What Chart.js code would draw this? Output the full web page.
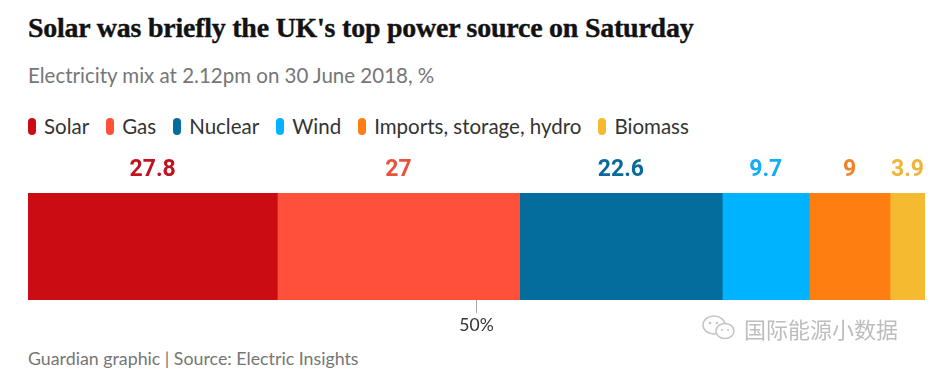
<!DOCTYPE html>
<html>
<head>
<meta charset="utf-8">
<script src="https://cdn.jsdelivr.net/npm/chart.js@4"></script>
<style>
  body { margin: 0; background: #fff; width: 948px; height: 389px; overflow: hidden; position: relative; font-family: Lato, "Noto Sans", sans-serif; }
  #title { position: absolute; left: 28px; top: 12px; font-family: "Liberation Serif", serif; font-weight: bold; font-size: 27.9px; color: #121212; letter-spacing: -0.2px; -webkit-text-stroke: 0.4px #121212; }
  #subtitle { position: absolute; left: 28px; top: 63px; font-size: 20.5px; color: #767676; }
  #legend { position: absolute; left: 28px; top: 114px; font-size: 20.5px; color: #333; display: flex; }
  #legend span.item { display: flex; align-items: center; margin-right: 17px; }
  #legend i { display: inline-block; width: 8px; height: 17px; border-radius: 4px; margin-right: 8px; }
  #wrap { position: absolute; left: 0; top: 150px; width: 948px; height: 190px; }
  #source { position: absolute; left: 28px; top: 347px; font-size: 17.8px; color: #767676; }
  #mark { position: absolute; left: 700px; top: 312px; font-family: "Noto Sans CJK SC", sans-serif; font-size: 22px; color: #bdbdbd; display: flex; align-items: center; }
</style>
</head>
<body>
<div id="title">Solar was briefly the UK's top power source on Saturday</div>
<div id="subtitle">Electricity mix at 2.12pm on 30 June 2018, %</div>
<div id="legend"></div>
<div id="wrap"><canvas id="mixChart"></canvas></div>
<div id="source">Guardian graphic | Source: Electric Insights</div>
<div id="mark">
  <svg width="40" height="30" viewBox="0 0 40 30">
    <ellipse cx="14" cy="12" rx="11" ry="9" fill="none" stroke="#c4c4c4" stroke-width="1.5"/>
    <ellipse cx="25" cy="18" rx="9" ry="7.5" fill="#fff" stroke="#c4c4c4" stroke-width="1.5"/>
    <circle cx="10" cy="10" r="1.3" fill="#c4c4c4"/><circle cx="17" cy="10" r="1.3" fill="#c4c4c4"/>
    <circle cx="22" cy="17" r="1.1" fill="#c4c4c4"/><circle cx="28" cy="17" r="1.1" fill="#c4c4c4"/>
  </svg>
  <span style="margin-left:4px">国际能源小数据</span>
</div>
<script>
// 電力來源（依圖例順序）
const sources = ['Solar', 'Gas', 'Nuclear', 'Wind', 'Imports, storage, hydro', 'Biomass'];
const shares = [27.8, 27, 22.6, 9.7, 9, 3.9];
const barColors = ['#cb0c12', '#ff513a', '#056c9e', '#00b3ff', '#ff7e12', '#f4ba30'];
const labelColors = ['#c1121f', '#e9533b', '#0a6a9a', '#13aef0', '#f0822a', '#f0b538'];
const tickValues = [50];

const total = shares.reduce((a, b) => a + b, 0);

// 圖例
const legendEl = document.getElementById('legend');
sources.forEach((name, i) => {
    const item = document.createElement('span');
    item.className = 'item';
    item.innerHTML = `<i style="background:${barColors[i]}"></i>${name}`;
    legendEl.appendChild(item);
});

// 在每段上方寫數值
const valueLabels = {
    id: 'valueLabels',
    afterDatasetsDraw(chart) {
        const c = chart.ctx;
        const area = chart.chartArea;
        c.save();
        c.font = 'bold 23px "Liberation Sans Narrow", "Roboto", sans-serif';
        c.textAlign = 'center';
        c.textBaseline = 'middle';
        chart.data.datasets.forEach((ds, i) => {
            const bar = chart.getDatasetMeta(i).data[0];
            const cx = (bar.x + bar.base) / 2;
            c.fillStyle = labelColors[i];
            c.fillText(String(ds.data[0]), cx, area.top - 23);
        });
        c.restore();
    }
};

const ctx = document.getElementById('mixChart').getContext('2d');
new Chart(ctx, {
    type: 'bar',
    data: {
        labels: [''],
        datasets: sources.map((name, i) => ({
            label: name,
            data: [shares[i]],
            backgroundColor: barColors[i],
            borderWidth: 0,
            barPercentage: 1,
            categoryPercentage: 1
        }))
    },
    options: {
        indexAxis: 'y',
        responsive: true,
        maintainAspectRatio: false,
        animation: false,
        layout: { padding: { left: 28, right: 23, top: 43, bottom: 2 } },
        plugins: { legend: { display: false }, tooltip: { enabled: false } },
        scales: {
            x: {
                stacked: true,
                min: 0,
                max: total,
                afterBuildTicks: axis => { axis.ticks = tickValues.map(v => ({ value: v })); },
                grid: { drawOnChartArea: false, drawTicks: true, tickLength: 13, color: '#aaa', lineWidth: 1 },
                border: { display: false },
                ticks: { callback: v => v + '%', color: '#333', font: { size: 17.5, family: 'Lato' }, padding: 2, maxRotation: 0 }
            },
            y: { stacked: true, display: false }
        }
    },
    plugins: [valueLabels]
});
</script>
</body>
</html>
